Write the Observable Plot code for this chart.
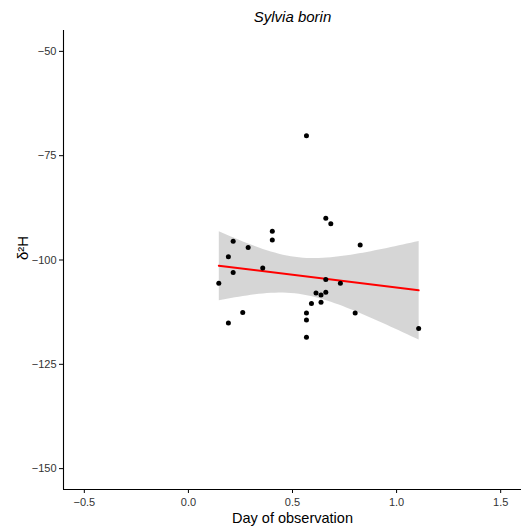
<!DOCTYPE html>
<html>
<head>
<meta charset="utf-8">
<script src="https://cdn.jsdelivr.net/npm/d3@7"></script>
<script src="https://cdn.jsdelivr.net/npm/@observablehq/plot@0.6"></script>
<style>
body { margin: 0; background: #fff; }
svg { font-family: "Liberation Sans", Arial, sans-serif; }
</style>
</head>
<body>
<div id="chart"></div>
<script>
const title = "Sylvia borin";
const xLabel = "Day of observation";
const yLabel = "δ²H";
const xTicks = [-0.5, 0.0, 0.5, 1.0, 1.5];
const yTicks = [-50, -75, -100, -125, -150];

const day = [0.567, 0.660, 0.684, 0.403, 0.403, 0.215, 0.287, 0.825, 0.192, 0.357,
             0.215, 0.146, 0.660, 0.730, 0.613, 0.660, 0.637, 0.637, 0.591, 0.261,
             0.567, 0.801, 0.567, 0.192, 0.567, 1.106];
const d2H = [-70.2, -90.0, -91.3, -93.1, -95.2, -95.5, -97.0, -96.4, -99.2, -101.9,
             -103.0, -105.6, -104.7, -105.6, -107.9, -107.7, -108.4, -110.1, -110.4, -112.6,
             -112.7, -112.7, -114.4, -115.1, -118.5, -116.4];

const data = day.map((d, i) => ({day: d, h: d2H[i]}));

const plot = Plot.plot({
  width: 525,
  height: 529,
  marginLeft: 63,
  marginRight: 4,
  marginTop: 30,
  marginBottom: 40,
  style: {fontSize: "11px", color: "black", background: "white"},
  x: {domain: [-0.6, 1.6], ticks: xTicks, tickFormat: d3.format(".1f")},
  y: {domain: [-155, -45], ticks: yTicks},
  marks: [
    Plot.linearRegressionY(data, {x: "day", y: "h", stroke: "red", strokeWidth: 2, fill: "#999999", fillOpacity: 0.4, ci: 0.95}),
    Plot.dot(data, {x: "day", y: "h", r: 2.5, fill: "black", stroke: null}),
    Plot.axisX({ticks: xTicks, tickFormat: d3.format(".1f"), tickSize: 4, tickPadding: 5, fill: "#333", label: null}),
    Plot.axisY({ticks: yTicks, tickSize: 4, tickPadding: 3, fill: "#333", label: null}),
    Plot.ruleX([-0.6], {stroke: "black", strokeWidth: 1.1}),
    Plot.ruleY([-155], {stroke: "black", strokeWidth: 1.1}),
    Plot.text([title], {frameAnchor: "top", lineAnchor: "middle", dy: -13, fontSize: 15, fontStyle: "italic", fill: "black"}),
    Plot.text([xLabel], {frameAnchor: "bottom", lineAnchor: "middle", dy: 29, fontSize: 14.5, fill: "black"}),
    Plot.text([yLabel], {frameAnchor: "left", dx: -40, rotate: -90, fontSize: 15, fill: "black"})
  ]
});
document.getElementById("chart").appendChild(plot);
</script>
</body>
</html>
